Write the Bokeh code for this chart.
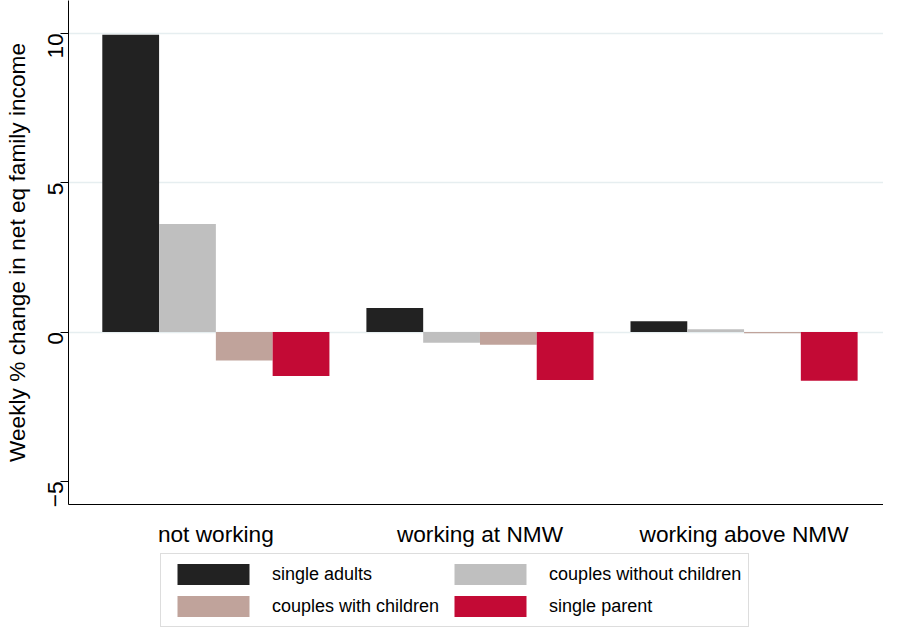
from bokeh.plotting import figure
from bokeh.models import Legend, LegendItem, FixedTicker
from bokeh.layouts import column
from bokeh.embed import file_html
from bokeh.resources import INLINE

groups = ["not working", "working at NMW", "working above NMW"]
series = ["single adults", "couples without children", "couples with children", "single parent"]
colors = ["#222222", "#bfbfbf", "#c0a39b", "#c30a35"]
values = {
    "single adults": [9.95, 0.81, 0.36],
    "couples without children": [3.62, -0.36, 0.1],
    "couples with children": [-0.95, -0.42, -0.04],
    "single parent": [-1.47, -1.6, -1.63],
}
legend_order = ["single adults", "couples with children", "couples without children", "single parent"]

font = "Liberation Sans"
w = 0.215
pos = [1, 2, 3]

p = figure(frame_width=815, frame_height=504, x_range=(0.442, 3.528), y_range=(-5.77, 11.1),
           output_backend="svg", toolbar_location=None,
           min_border_left=10, min_border_right=0, min_border_top=0, min_border_bottom=0)
p.outline_line_color = None
p.background_fill_color = "white"

for i, s in enumerate(series):
    xs = [g + (i - 1.5) * w for g in pos]
    p.vbar(x=xs, top=values[s], bottom=0, width=w, fill_color=colors[i], line_color=None)

p.xaxis.ticker = FixedTicker(ticks=pos)
p.xaxis.major_label_overrides = {1: groups[0], 2: groups[1], 3: groups[2]}
p.xaxis.major_tick_line_color = None
p.xaxis.minor_tick_line_color = None
p.xaxis.axis_line_color = "black"
p.xaxis.major_label_standoff = 10
p.xaxis.major_label_text_font = font
p.xaxis.major_label_text_font_size = "17pt"
p.xaxis.major_label_text_color = "black"

p.yaxis.ticker = FixedTicker(ticks=[-5, 0, 5, 10])
p.yaxis.minor_tick_line_color = None
p.yaxis.major_tick_out = 8
p.yaxis.major_tick_in = 0
p.yaxis.axis_line_color = "black"
p.yaxis.major_label_orientation = 1.5708
p.yaxis.major_label_text_font = font
p.yaxis.major_label_text_font_size = "17pt"
p.yaxis.major_label_text_color = "black"
p.yaxis.axis_label = "Weekly % change in net eq family income"
p.yaxis.axis_label_text_font = font
p.yaxis.axis_label_text_font_size = "17pt"
p.yaxis.axis_label_text_font_style = "normal"
p.yaxis.axis_label_text_color = "black"
p.yaxis.axis_label_standoff = 8

p.xgrid.grid_line_color = None
p.ygrid.ticker = FixedTicker(ticks=[0, 5, 10])
p.ygrid.grid_line_color = "#e6eef0"
p.ygrid.grid_line_width = 1.5

# legend lives in its own small figure underneath
leg = figure(width=884, height=80, x_range=(0, 1), y_range=(0, 1),
             output_backend="svg", toolbar_location=None,
             min_border=0)
leg.axis.visible = False
leg.grid.visible = False
leg.outline_line_color = None
dummy = {s: leg.vbar(x=[5], top=[5], width=0.1, fill_color=colors[i], line_color=None)
         for i, s in enumerate(series)}

legend = Legend(items=[LegendItem(label=s, renderers=[dummy[s]]) for s in legend_order],
                ncols=2, location=(92, 2),
                label_text_font=font, label_text_font_size="13.5pt", label_text_color="black",
                glyph_width=90, glyph_height=26, label_standoff=14, label_height=26,
                spacing=6, padding=7, margin=0,
                border_line_color="#bbbbbb", border_line_width=1)
leg.add_layout(legend, "center")

open("out.html", "w").write(file_html(column(p, leg, spacing=0), INLINE))
